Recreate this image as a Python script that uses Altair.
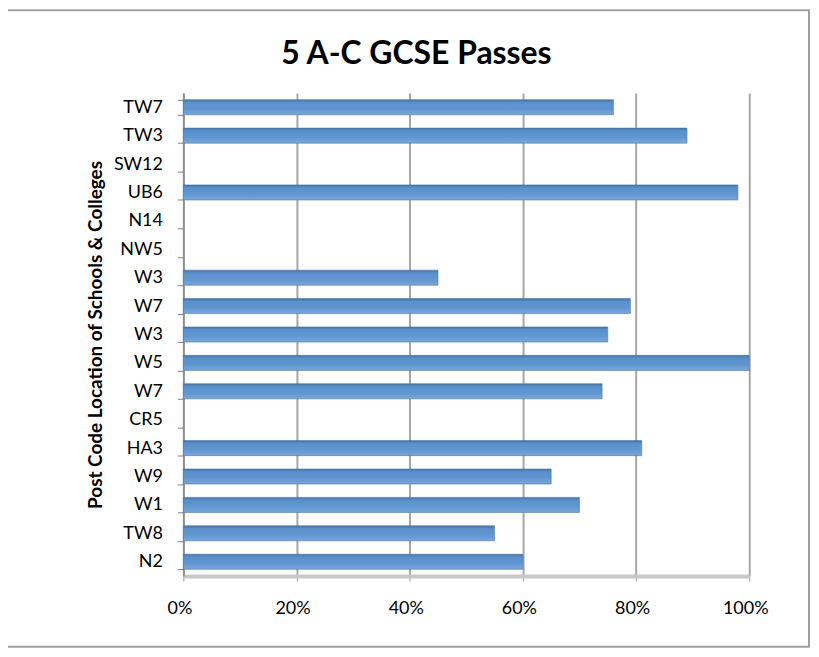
import altair as alt
import pandas as pd

# Categories top-to-bottom as shown, with values (fraction of pupils)
postcodes = ["TW7", "TW3", "SW12", "UB6", "N14", "NW5", "W3", "W7", "W3", "W5",
             "W7", "CR5", "HA3", "W9", "W1", "TW8", "N2"]
passes = [0.76, 0.89, None, 0.98, None, None, 0.45, 0.79, 0.75, 1.00,
          0.74, None, 0.81, 0.65, 0.70, 0.55, 0.60]
x_ticks = [0, 0.2, 0.4, 0.6, 0.8, 1.0]
chart_title = "5 A-C GCSE Passes"
y_title = "Post Code Location of Schools & Colleges"

keys = [f"{p}#{i}" for i, p in enumerate(postcodes)]
df = pd.DataFrame({"key": keys, "postcode": postcodes, "value": passes})

FONT = "Lato"
W, H = 568, 485

bar_fill = alt.Gradient(
    gradient="linear",
    stops=[
        alt.GradientStop(color="#44719f", offset=0),
        alt.GradientStop(color="#5a8fca", offset=0.18),
        alt.GradientStop(color="#5f96d1", offset=0.6),
        alt.GradientStop(color="#7aa6d8", offset=1),
    ],
    x1=0, x2=0, y1=0, y2=1,
)

bars = alt.Chart(df).mark_bar(
    fill=bar_fill, stroke="#4a78ad", strokeWidth=0.6, clip=False
).encode(
    x=alt.X(
        "value:Q",
        scale=alt.Scale(domain=[0, 1], nice=False, zero=True),
        axis=alt.Axis(
            values=x_ticks, format=".0%", title=None, grid=True,
            gridColor="#a6a6a6", gridWidth=2,
            domainColor="#c8c8c8", domainWidth=4,
            tickColor="#999999", tickSize=5, labelPadding=19,
            labelOffset=-4, labelFlush=False, labelFontSize=18,
            labelFont=FONT, labelColor="#000000",
        ),
    ),
    y=alt.Y(
        "key:N",
        sort=keys,
        scale=alt.Scale(domain=keys, paddingInner=0.47, paddingOuter=0.24),
        axis=alt.Axis(
            title=y_title,
            titleFont=FONT, titleFontSize=19, titleFontWeight="bold",
            titleColor="#000000", titleX=-78, titleY=H / 2,
            labelExpr="isValid(datum.value) ? split(datum.value, '#')[0] : ''",
            labelFont=FONT, labelFontSize=18, labelColor="#000000",
            labelPadding=15, tickSize=6, tickColor="#808080",
            tickBand="extent", domainColor="#8c8c8c", domainWidth=1.5,
            grid=False,
        ),
    ),
)

one = alt.Data(values=[{"a": 1}])

border = alt.Chart(one).mark_rect(
    fill=None, stroke="#a0a0a0", strokeWidth=2, clip=False
).encode(
    x=alt.value(-180), x2=alt.value(628), y=alt.value(-83), y2=alt.value(556)
)

title = alt.Chart(one).mark_text(
    font=FONT, fontSize=32, fontWeight="bold", color="#000000",
    align="center", baseline="alphabetic", clip=False
).encode(
    x=alt.value(234), y=alt.value(-29), text=alt.value(chart_title)
)

chart = alt.layer(border, bars, title).properties(
    width=W,
    height=H,
    autosize=alt.AutoSizeParams(type="none"),
    padding={"left": 176, "top": 84, "right": 62, "bottom": 73},
).configure_view(stroke=None)

chart.save("out.html", embed_options={"renderer": "svg", "actions": False})
